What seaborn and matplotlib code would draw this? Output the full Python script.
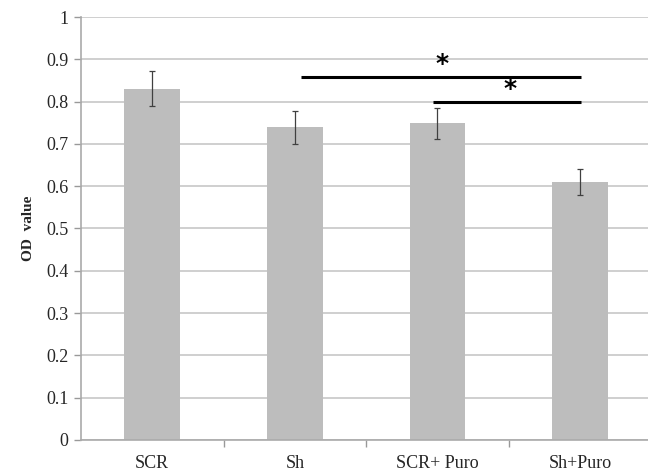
import matplotlib
matplotlib.use("Agg")
import matplotlib.pyplot as plt
import seaborn as sns
import pandas as pd

categories = ["SCR", "Sh", "SCR+ Puro", "Sh+Puro"]
od_values = [0.831, 0.739, 0.749, 0.610]
od_errors = [0.042, 0.038, 0.037, 0.030]
y_ticks = [0, 0.1, 0.2, 0.3, 0.4, 0.5, 0.6, 0.7, 0.8, 0.9, 1]
y_tick_labels = ["0", "0.1", "0.2", "0.3", "0.4", "0.5", "0.6", "0.7", "0.8", "0.9", "1"]
# significance brackets: (x_start, x_end, y_line, star_x, star_y)
sig_lines = [(1.04, 3.01, 0.859, 2.03, 0.890), (1.97, 3.01, 0.800, 2.51, 0.830)]

sns.set_theme(style="white")
plt.rcParams["font.family"] = ["Liberation Serif", "DejaVu Serif"]

df = pd.DataFrame({"group": categories, "od": od_values})

fig = plt.figure(figsize=(6.48, 4.75), dpi=100)
ax = fig.add_axes([0.125, 0.074, 0.88, 0.89])

sns.barplot(data=df, x="group", y="od", color="#bdbdbd", saturation=1,
            width=0.39, errorbar=None, ax=ax, zorder=2, linewidth=0)
ax.errorbar(range(len(categories)), od_values, yerr=od_errors, fmt="none",
            ecolor="#404040", elinewidth=0.9, capsize=2.2, capthick=0.9, zorder=3)

for x0, x1, yl, sx, sy in sig_lines:
    ax.plot([x0, x1], [yl, yl], color="black", lw=2.2, zorder=4, solid_capstyle="butt")
    ax.text(sx, sy, "*", ha="center", va="center", fontsize=18, fontweight="bold",
            family="DejaVu Sans", color="black")

ax.set_xlim(-0.5, 3.5)
ax.set_ylim(0, 1)
ax.set_yticks(y_ticks)
ax.set_yticklabels(y_tick_labels, fontsize=13)
ax.yaxis.grid(True, color="#cccccc", lw=1.3, zorder=0)
ax.set_axisbelow(True)

ax.set_xticks(range(len(categories)))
ax.set_xticklabels(categories, fontsize=13)
ax.set_xticks([0.5, 1.5, 2.5], minor=True)
ax.tick_params(axis="x", which="major", length=0, pad=11)
ax.tick_params(axis="x", which="minor", length=5, color="#999999", width=1, direction="out", bottom=True)
ax.tick_params(axis="y", length=5, color="#999999", width=1, direction="out", left=True, pad=4)

ax.set_xlabel("")
ax.set_ylabel("OD  value", fontsize=11, fontweight="bold", labelpad=8)

for s in ["top", "right"]:
    ax.spines[s].set_visible(False)
for s in ["left", "bottom"]:
    ax.spines[s].set_color("#aaaaaa")
    ax.spines[s].set_linewidth(1.2)

fig.savefig("out.png", dpi=100)
